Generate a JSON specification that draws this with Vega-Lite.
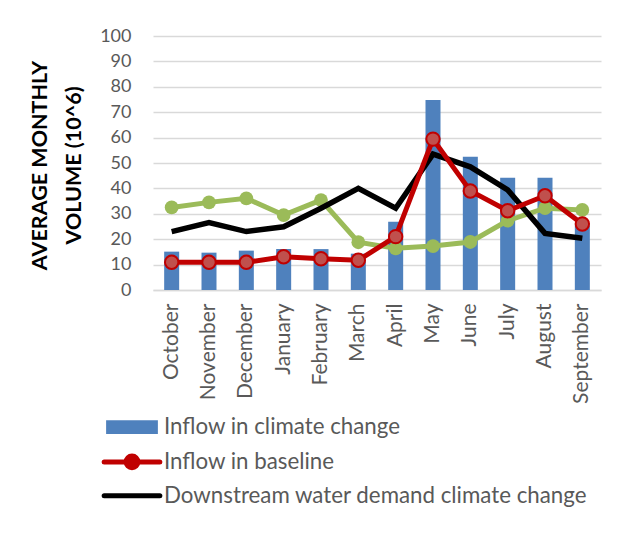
{
  "$schema": "https://vega.github.io/schema/vega-lite/v6.json",
  "width": 448,
  "height": 254,
  "autosize": {"type": "none"},
  "padding": {"left": 153, "top": 36, "right": 29, "bottom": 248},
  "background": "white",
  "config": {
    "view": {"stroke": null},
    "font": "Lato",
    "axis": {"labelFont": "Lato", "labelColor": "#595959", "titleFont": "Lato"}
  },
  "data": {
    "values": [
      {"month": "October", "series": "Inflow in climate change", "value": 15.1},
      {"month": "November", "series": "Inflow in climate change", "value": 14.7},
      {"month": "December", "series": "Inflow in climate change", "value": 15.5},
      {"month": "January", "series": "Inflow in climate change", "value": 16.1},
      {"month": "February", "series": "Inflow in climate change", "value": 16.1},
      {"month": "March", "series": "Inflow in climate change", "value": 14.3},
      {"month": "April", "series": "Inflow in climate change", "value": 26.9},
      {"month": "May", "series": "Inflow in climate change", "value": 74.8},
      {"month": "June", "series": "Inflow in climate change", "value": 52.5},
      {"month": "July", "series": "Inflow in climate change", "value": 44.2},
      {"month": "August", "series": "Inflow in climate change", "value": 44.2},
      {"month": "September", "series": "Inflow in climate change", "value": 25.5},
      {"month": "October", "series": "Inflow in baseline", "value": 10.9},
      {"month": "November", "series": "Inflow in baseline", "value": 10.9},
      {"month": "December", "series": "Inflow in baseline", "value": 10.9},
      {"month": "January", "series": "Inflow in baseline", "value": 13.1},
      {"month": "February", "series": "Inflow in baseline", "value": 12.3},
      {"month": "March", "series": "Inflow in baseline", "value": 11.7},
      {"month": "April", "series": "Inflow in baseline", "value": 21.0},
      {"month": "May", "series": "Inflow in baseline", "value": 59.4},
      {"month": "June", "series": "Inflow in baseline", "value": 39.0},
      {"month": "July", "series": "Inflow in baseline", "value": 31.2},
      {"month": "August", "series": "Inflow in baseline", "value": 37.1},
      {"month": "September", "series": "Inflow in baseline", "value": 26.0},
      {"month": "October", "series": "Downstream water demand climate change", "value": 23.0},
      {"month": "November", "series": "Downstream water demand climate change", "value": 26.5},
      {"month": "December", "series": "Downstream water demand climate change", "value": 23.0},
      {"month": "January", "series": "Downstream water demand climate change", "value": 24.9},
      {"month": "February", "series": "Downstream water demand climate change", "value": 32.2},
      {"month": "March", "series": "Downstream water demand climate change", "value": 40.0},
      {"month": "April", "series": "Downstream water demand climate change", "value": 32.2},
      {"month": "May", "series": "Downstream water demand climate change", "value": 53.5},
      {"month": "June", "series": "Downstream water demand climate change", "value": 48.5},
      {"month": "July", "series": "Downstream water demand climate change", "value": 39.4},
      {"month": "August", "series": "Downstream water demand climate change", "value": 22.3},
      {"month": "September", "series": "Downstream water demand climate change", "value": 20.4},
      {"month": "October", "series": "Downstream water demand baseline", "value": 32.5},
      {"month": "November", "series": "Downstream water demand baseline", "value": 34.5},
      {"month": "December", "series": "Downstream water demand baseline", "value": 36.1},
      {"month": "January", "series": "Downstream water demand baseline", "value": 29.5},
      {"month": "February", "series": "Downstream water demand baseline", "value": 35.4},
      {"month": "March", "series": "Downstream water demand baseline", "value": 18.8},
      {"month": "April", "series": "Downstream water demand baseline", "value": 16.4},
      {"month": "May", "series": "Downstream water demand baseline", "value": 17.3},
      {"month": "June", "series": "Downstream water demand baseline", "value": 18.9},
      {"month": "July", "series": "Downstream water demand baseline", "value": 27.3},
      {"month": "August", "series": "Downstream water demand baseline", "value": 32.2},
      {"month": "September", "series": "Downstream water demand baseline", "value": 31.5}
    ]
  },
  "encoding": {
    "x": {
      "field": "month",
      "type": "nominal",
      "sort": ["October", "November", "December", "January", "February", "March", "April", "May", "June", "July", "August", "September"],
      "scale": {"paddingInner": 0, "paddingOuter": 0},
      "axis": {
        "title": null,
        "labelAngle": -90,
        "labelAlign": "right",
        "labelBaseline": "middle",
        "labelFontSize": 21,
        "labelPadding": 13,
        "ticks": false,
        "domainColor": "#d9d9d9",
        "domainWidth": 1.5
      }
    },
    "y": {
      "field": "value",
      "type": "quantitative",
      "scale": {"domain": [0, 100], "nice": false},
      "axis": {
        "values": [0, 10, 20, 30, 40, 50, 60, 70, 80, 90, 100],
        "title": ["AVERAGE MONTHLY", "VOLUME (10^6)"],
        "titleFontSize": 21.5,
        "titleFontWeight": "bold",
        "titleColor": "#000000",
        "titleAngle": -90,
        "titleX": -113,
        "titleY": 129,
        "titleAlign": "center",
        "titleBaseline": "middle",
        "titleLineHeight": 34,
        "labelFontSize": 18,
        "labelPadding": 22,
        "ticks": false,
        "domain": false,
        "gridColor": "#d9d9d9",
        "gridWidth": 1.5
      }
    }
  },
  "layer": [
    {
      "transform": [{"filter": "datum.series === 'Inflow in climate change'"}],
      "mark": {"type": "bar", "size": 15},
      "encoding": {
        "color": {
          "field": "series",
          "type": "nominal",
          "scale": {
            "domain": ["Inflow in climate change", "Inflow in baseline", "Downstream water demand climate change"],
            "range": ["#4F81BD", "#C00000", "#000000"]
          },
          "legend": {
            "orient": "none",
            "legendX": -50,
            "legendY": 380,
            "direction": "vertical",
            "title": null,
            "padding": 0,
            "symbolSize": 3100,
            "rowPadding": 6.8,
            "labelOffset": 4,
            "labelFontSize": 22.3,
            "labelColor": "#595959",
            "labelFont": "Lato",
            "labelLimit": 500,
            "encode": {
              "labels": {
                "update": {"x": {"value": 61}}
              },
              "symbols": {
                "update": {
                  "x": {"value": 29},
                  "shape": {"signal": "datum.value === 'Inflow in climate change' ? 'M-0.93,-0.25H0.93V0.25H-0.93Z' : datum.value === 'Inflow in baseline' ? 'M-1,0H-0.21A0.21,0.21 0 1,1 0.21,0A0.21,0.21 0 1,1 -0.21,0M0.21,0H1' : 'M-1,0H1'"},
                  "fill": {"signal": "datum.value === 'Inflow in climate change' ? '#4F81BD' : datum.value === 'Inflow in baseline' ? '#C0504D' : 'transparent'"},
                  "stroke": {"signal": "datum.value === 'Inflow in climate change' ? '#4F81BD' : datum.value === 'Inflow in baseline' ? '#C00000' : '#000000'"},
                  "strokeWidth": {"signal": "datum.value === 'Inflow in climate change' ? 0 : 5"},
                  "strokeCap": {"value": "round"},
                  "opacity": {"value": 1}
                }
              }
            }
          }
        }
      }
    },
    {
      "transform": [{"filter": "datum.series === 'Downstream water demand baseline'"}],
      "mark": {"type": "line", "color": "#9BBB59", "strokeWidth": 5, "point": {"filled": true, "size": 190, "color": "#9BBB59", "opacity": 1}}
    },
    {
      "transform": [{"filter": "datum.series === 'Downstream water demand climate change'"}],
      "mark": {"type": "line", "strokeWidth": 5.5},
      "encoding": {
        "color": {"field": "series", "type": "nominal"}
      }
    },
    {
      "transform": [{"filter": "datum.series === 'Inflow in baseline'"}],
      "mark": {"type": "line", "strokeWidth": 5, "point": {"filled": true, "size": 180, "fill": "#C0504D", "stroke": "#C00000", "strokeWidth": 2, "opacity": 1}},
      "encoding": {
        "color": {"field": "series", "type": "nominal"}
      }
    }
  ]
}
